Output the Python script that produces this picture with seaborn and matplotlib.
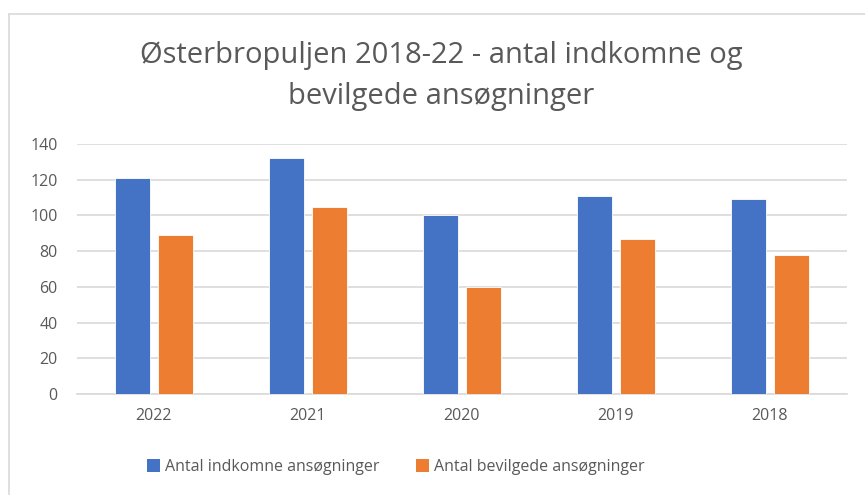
import numpy as np
import pandas as pd
import seaborn as sns
import matplotlib.pyplot as plt
from matplotlib.patches import Patch
from matplotlib.lines import Line2D

years = ['2022', '2021', '2020', '2019', '2018']
indkomne = [121, 132, 100, 111, 109]
bevilgede = [89, 105, 60, 87, 78]
series_names = ['Antal indkomne ansøgninger', 'Antal bevilgede ansøgninger']
colors = ['#4472C4', '#ED7D31']

df = pd.DataFrame({
    'aar': years * 2,
    'antal': indkomne + bevilgede,
    'serie': [series_names[0]] * len(years) + [series_names[1]] * len(years),
})

sns.set_theme(style='white')
plt.rcParams['font.family'] = ['Open Sans', 'DejaVu Sans']
text_col = '#595959'

fig = plt.figure(figsize=(8.65, 4.95), dpi=100)
ax = fig.add_axes([77 / 865, 1 - 394 / 495, 770 / 865, 250 / 495])

sns.barplot(data=df, x='aar', y='antal', hue='serie', order=years,
            hue_order=series_names, palette=colors, saturation=1,
            width=0.565, gap=0.2, edgecolor='white', linewidth=0.6,
            ax=ax, legend=False, zorder=3)

ax.set_ylim(0, 140)
ax.set_xlim(-0.5, 4.5)
ax.set_yticks(np.arange(0, 141, 20))
ax.yaxis.grid(True, color='#D9D9D9', linewidth=1.2, zorder=0)
ax.xaxis.grid(False)
for s in ['top', 'right', 'left']:
    ax.spines[s].set_visible(False)
ax.spines['bottom'].set_color('#D9D9D9')
ax.spines['bottom'].set_linewidth(1.2)
ax.set_xlabel('')
ax.set_ylabel('')
ax.tick_params(axis='both', length=0, labelsize=11.5, colors=text_col)
ax.tick_params(axis='x', pad=10)
ax.tick_params(axis='y', pad=14)

fig.text(0.51, 1 - 76 / 495, 'Østerbropuljen 2018-22 - antal indkomne og\nbevilgede ansøgninger',
         ha='center', va='center', fontsize=21, color=text_col, linespacing=1.55)

handles = [Patch(facecolor=c, edgecolor='none') for c in colors]
fig.legend(handles, series_names, loc='center', bbox_to_anchor=(396 / 865, 1 - 467 / 495),
           ncol=2, frameon=False, fontsize=11.5, labelcolor=text_col,
           handlelength=0.8, handleheight=0.8, handletextpad=0.3, columnspacing=2.3)

# light chart-area border (left and top edges visible)
top = 1 - 13.5 / 495
left = 8.5 / 865
fig.add_artist(Line2D([left, left], [0, top], transform=fig.transFigure,
                      color='#D9D9D9', linewidth=1.2))
fig.add_artist(Line2D([left, 1], [top, top], transform=fig.transFigure,
                      color='#D9D9D9', linewidth=1.2))

fig.savefig('out.png', dpi=100)
